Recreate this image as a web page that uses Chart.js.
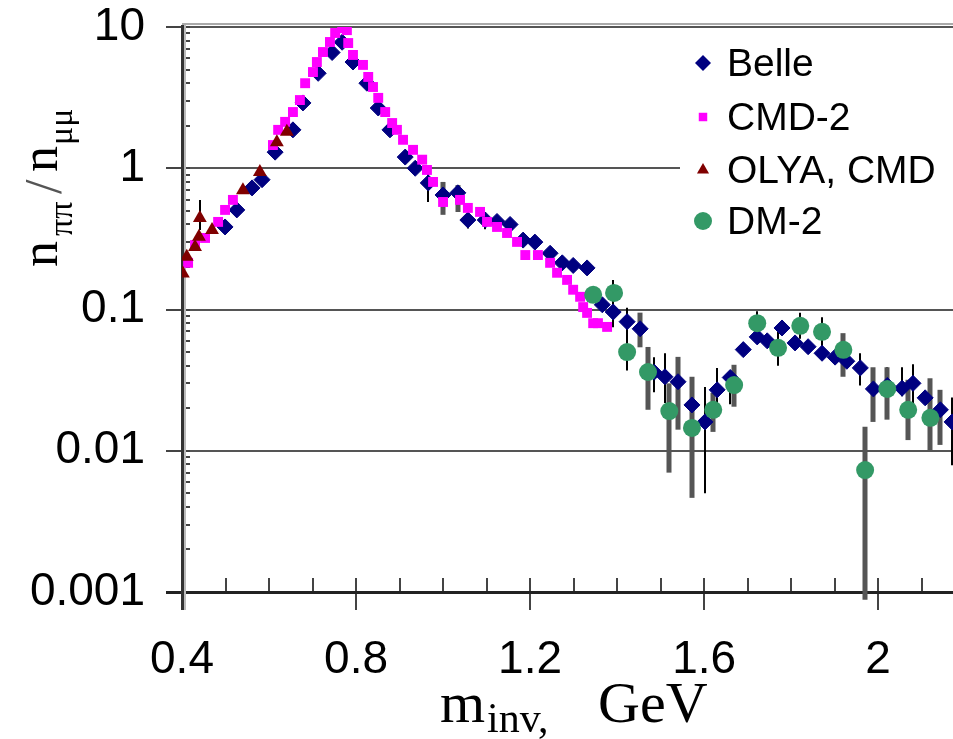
<!DOCTYPE html>
<html>
<head>
<meta charset="utf-8">
<script src="https://cdn.jsdelivr.net/npm/chart.js@4.4.1/dist/chart.umd.min.js"></script>
<style>
  html, body { margin: 0; padding: 0; background: #fff; }
</style>
</head>
<body>
<canvas id="ratioChart" width="953" height="739"></canvas>
<script>
// axis ticks
const xTicks = [0.4, 0.8, 1.2, 1.6, 2];
const yTicks = [0.001, 0.01, 0.1, 1, 10];
const yTickLabels = ['0.001', '0.01', '0.1', '1', '10'];

const seriesNames = ['Belle', 'CMD-2', 'OLYA, CMD', 'DM-2'];

// Belle
const belleMass = [0.499, 0.526, 0.561, 0.584, 0.614, 0.655, 0.678, 0.713, 0.745, 0.768,
  0.793, 0.825, 0.851, 0.878, 0.913, 0.936, 0.966, 1.000, 1.034, 1.057,
  1.097, 1.124, 1.154, 1.184, 1.211, 1.246, 1.274, 1.299, 1.331, 1.366,
  1.391, 1.423, 1.453, 1.485, 1.510, 1.540, 1.572, 1.602, 1.630, 1.660,
  1.690, 1.722, 1.745, 1.779, 1.809, 1.839, 1.871, 1.901, 1.928, 1.959,
  1.989, 2.021, 2.055, 2.080, 2.108, 2.143, 2.170];
const belleRatio = [0.384, 0.507, 0.726, 0.83, 1.30, 1.87, 2.9, 4.7, 6.6, 7.8,
  5.65, 4.0, 2.67, 1.87, 1.2, 1.0, 0.787, 0.647, 0.67, 0.43,
  0.43, 0.42, 0.40, 0.31, 0.30, 0.25, 0.214, 0.205, 0.197, 0.108,
  0.096, 0.082, 0.073, 0.036, 0.0334, 0.0308, 0.0211, 0.016, 0.027, 0.033,
  0.052, 0.064, 0.060, 0.074, 0.058, 0.0545, 0.049, 0.046, 0.043, 0.0386,
  0.0274, 0.029, 0.0277, 0.030, 0.0237, 0.0195, 0.016];
const belleErrMass = [0.966, 1.057, 1.097, 1.391, 1.423, 1.485, 1.510, 1.572, 1.602, 1.630, 1.660, 1.959, 2.021, 2.055, 2.080, 2.170];
const belleErrLo = [0.578, 0.375, 0.37, 0.075, 0.037, 0.026, 0.0218, 0.0094, 0.0050, 0.0174, 0.0213, 0.029, 0.0174, 0.0243, 0.0195, 0.0079];
const belleErrHi = [1.0, 0.50, 0.49, 0.162, 0.103, 0.046, 0.049, 0.028, 0.0283, 0.0386, 0.036, 0.049, 0.039, 0.039, 0.041, 0.0238];
const belleSysMass = [1.000, 1.034, 1.453, 1.540, 1.989, 2.143];
const belleSysLo = [0.468, 0.49, 0.054, 0.0141, 0.016, 0.011];
const belleSysHi = [0.80, 0.76, 0.095, 0.0462, 0.039, 0.027];

// CMD-2
const cmd2Mass = [0.414, 0.430, 0.453, 0.483, 0.499, 0.517, 0.609, 0.621, 0.637, 0.655,
  0.671, 0.683, 0.701, 0.710, 0.724, 0.740, 0.752, 0.768, 0.779, 0.782,
  0.793, 0.816, 0.828, 0.839, 0.851, 0.867, 0.883, 0.894, 0.908, 0.931,
  0.952, 0.963, 0.977, 1.000, 1.039, 1.057, 1.085, 1.101, 1.124, 1.147,
  1.170, 1.189, 1.218, 1.246, 1.262, 1.285, 1.299, 1.315, 1.322, 1.331,
  1.345, 1.356, 1.377];
const cmd2Ratio = [0.214, 0.286, 0.321, 0.417, 0.507, 0.597, 1.46, 1.87, 2.13, 2.50,
  3.04, 4.0, 4.8, 5.65, 6.65, 7.83, 9.07, 9.8, 9.5, 7.7,
  6.34, 5.39, 4.43, 3.76, 3.15, 2.50, 2.09, 1.87, 1.59, 1.35,
  1.15, 0.973, 0.80, 0.577, 0.597, 0.524, 0.491, 0.417, 0.384, 0.348,
  0.301, 0.243, 0.243, 0.214, 0.182, 0.162, 0.138, 0.123, 0.104, 0.0946,
  0.080, 0.080, 0.0753];

// OLYA, CMD
const olyaMass = [0.402, 0.411, 0.430, 0.439, 0.441, 0.469, 0.540, 0.579, 0.618, 0.641];
const olyaRatio = [0.18, 0.236, 0.277, 0.327, 0.445, 0.366, 0.70, 0.94, 1.53, 1.81];
const olyaErrMass = [0.441];
const olyaErrLo = [0.366];
const olyaErrHi = [0.597];

// DM-2
const dm2Mass = [1.345, 1.393, 1.423, 1.471, 1.520, 1.572, 1.621, 1.669, 1.722, 1.770,
  1.821, 1.871, 1.920, 1.970, 2.021, 2.069, 2.120];
const dm2Ratio = [0.127, 0.131, 0.050, 0.0361, 0.0191, 0.0145, 0.0195, 0.0292, 0.080, 0.0535,
  0.0766, 0.0695, 0.0518, 0.0073, 0.0274, 0.0195, 0.0171];
const dm2ErrMass = [1.722, 1.770, 1.821, 1.871];
const dm2ErrLo = [0.066, 0.040, 0.062, 0.055];
const dm2ErrHi = [0.097, 0.070, 0.095, 0.088];
const dm2SysMass = [1.471, 1.520, 1.572, 1.621, 1.669, 1.920, 1.970, 2.021, 2.069, 2.120];
const dm2SysLo = [0.0195, 0.0070, 0.00464, 0.0136, 0.0205, 0.0334, 0.00088, 0.0166, 0.0119, 0.0098];
const dm2SysHi = [0.0543, 0.030, 0.0334, 0.0257, 0.0406, 0.068, 0.0148, 0.039, 0.0318, 0.0326];

const NAVY = '#000080', MAGENTA = '#ff00ff', DARKRED = '#800000', GREEN = '#339966';
const SANS = "'Liberation Sans', Arial, sans-serif";
const SERIF = "'Liberation Serif', 'Times New Roman', serif";

const toPoints = (xs, ys) => xs.map((x, i) => ({ x, y: ys[i] }));
const thinBars = (mass, lo, hi) => ({ mass, lo, hi, color: '#000', width: 2 });
const wideBars = (mass, lo, hi) => ({ mass, lo, hi, color: '#555', width: 5 });

const datasets = [
  {
    label: seriesNames[0], data: toPoints(belleMass, belleRatio), order: 4,
    pointStyle: 'rectRot', pointRadius: 8, backgroundColor: NAVY, borderColor: NAVY, borderWidth: 1,
    bars: [wideBars(belleSysMass, belleSysLo, belleSysHi), thinBars(belleErrMass, belleErrLo, belleErrHi)]
  },
  {
    label: seriesNames[1], data: toPoints(cmd2Mass, cmd2Ratio), order: 3,
    pointStyle: 'rect', pointRadius: 7, backgroundColor: MAGENTA, borderColor: MAGENTA, borderWidth: 0
  },
  {
    label: seriesNames[2], data: toPoints(olyaMass, olyaRatio), order: 2,
    pointStyle: 'triangle', pointRadius: 8, backgroundColor: DARKRED, borderColor: DARKRED, borderWidth: 0,
    bars: [thinBars(olyaErrMass, olyaErrLo, olyaErrHi)]
  },
  {
    label: seriesNames[3], data: toPoints(dm2Mass, dm2Ratio), order: 1,
    pointStyle: 'circle', pointRadius: 9, backgroundColor: GREEN, borderColor: GREEN, borderWidth: 0,
    bars: [wideBars(dm2SysMass, dm2SysLo, dm2SysHi), thinBars(dm2ErrMass, dm2ErrLo, dm2ErrHi)]
  }
];

// axis lines, major/minor tick marks
const frame = {
  id: 'frame',
  beforeDatasetsDraw(chart) {
    const { ctx, chartArea: a, scales: { x, y } } = chart;
    ctx.save();
    // light top border
    ctx.fillStyle = '#aaa';
    ctx.fillRect(a.left, a.top - 4, a.right - a.left, 2);
    ctx.strokeStyle = '#444';
    ctx.lineWidth = 2;
    // x ticks: every 0.1 inside, labelled ones also outside
    for (let k = 4; k <= 21; k++) {
      const v = k / 10;
      const px = Math.round(x.getPixelForValue(v));
      const major = xTicks.some(t => Math.abs(t - v) < 1e-9);
      ctx.beginPath();
      ctx.moveTo(px, a.bottom + (major ? 18 : 0));
      ctx.lineTo(px, a.bottom - 14);
      ctx.stroke();
    }
    // y ticks: 1..9 per decade inside, decades also outside
    for (let d = 0; d < yTicks.length; d++) {
      for (let k = 1; k <= 9; k++) {
        const v = yTicks[d] * k;
        if (v > 10) break;
        const py = Math.round(y.getPixelForValue(v));
        ctx.beginPath();
        ctx.moveTo(a.left - (k === 1 ? 16 : 0), py);
        ctx.lineTo(a.left + 8, py);
        ctx.stroke();
      }
    }
    ctx.fillStyle = '#222';
    ctx.fillRect(a.left - 16, a.bottom - 1, a.right - a.left + 16, 3);
    ctx.fillStyle = '#bbb';
    ctx.fillRect(a.left + 1, a.top - 2, 3, a.bottom - a.top + 20);
    ctx.fillStyle = '#333';
    ctx.fillRect(a.left - 1, a.top - 2, 3, a.bottom - a.top + 20);
    ctx.restore();
  }
};

// vertical uncertainty bars
const errorBars = {
  id: 'errorBars',
  beforeDatasetsDraw(chart) {
    const { ctx, scales: { x, y } } = chart;
    ctx.save();
    chart.data.datasets.forEach(ds => {
      (ds.bars || []).forEach(b => {
        ctx.strokeStyle = b.color;
        ctx.lineWidth = b.width;
        b.mass.forEach((m, i) => {
          const px = Math.round(x.getPixelForValue(m));
          ctx.beginPath();
          ctx.moveTo(px, y.getPixelForValue(b.lo[i]));
          ctx.lineTo(px, y.getPixelForValue(b.hi[i]));
          ctx.stroke();
        });
      });
    });
    ctx.restore();
  }
};

// legend box in the upper right corner
const cornerLegend = {
  id: 'cornerLegend',
  afterDatasetsDraw(chart) {
    const { ctx, chartArea: a } = chart;
    const left = 680, top = 33;
    ctx.save();
    ctx.fillStyle = '#fff';
    ctx.fillRect(left, top, a.right - left, 215);
    const rows = [63, 117, 170, 221];
    const marks = [
      { pointStyle: 'rectRot', radius: 8, color: NAVY },
      { pointStyle: 'rect', radius: 6, color: MAGENTA },
      { pointStyle: 'triangle', radius: 7, color: DARKRED },
      { pointStyle: 'circle', radius: 9, color: GREEN }
    ];
    ctx.font = '39px ' + SANS;
    ctx.textBaseline = 'middle';
    marks.forEach((m, i) => {
      ctx.fillStyle = m.color;
      ctx.strokeStyle = m.color;
      Chart.helpers.drawPoint(ctx, { pointStyle: m.pointStyle, radius: m.radius, rotation: 0, borderWidth: 0 }, 703, rows[i]);
      ctx.fillStyle = '#000';
      ctx.fillText(seriesNames[i], 727, rows[i] + 2);
    });
    ctx.restore();
  }
};

// axis titles with subscripts
const axisTitles = {
  id: 'axisTitles',
  afterDraw(chart) {
    const { ctx } = chart;
    ctx.save();
    ctx.fillStyle = '#000';
    ctx.textBaseline = 'alphabetic';
    // y title, rotated
    ctx.translate(57, 267);
    ctx.rotate(-Math.PI / 2);
    ctx.font = '52px ' + SERIF;
    ctx.fillText('n', 0, 0);
    ctx.font = '34px ' + SERIF;
    ctx.fillText('\u03c0\u03c0', 31, 15);
    ctx.fillStyle = '#555';
    ctx.font = '52px ' + SERIF;
    ctx.fillText('/', 73, 4);
    ctx.fillStyle = '#000';
    ctx.fillText('n', 95, 0);
    ctx.font = '34px ' + SERIF;
    ctx.fillText('\u03bc\u03bc', 122, 15);
    ctx.setTransform(1, 0, 0, 1, 0, 0);
    // x title
    ctx.font = '58px ' + SERIF;
    ctx.fillText('m', 440, 722);
    ctx.font = '42px ' + SERIF;
    ctx.fillText('inv,', 487, 732);
    ctx.font = '58px ' + SERIF;
    ctx.fillText('GeV', 598, 722);
    ctx.restore();
  }
};

const tickFont = { family: SANS, size: 46, lineHeight: 1 };

new Chart(document.getElementById('ratioChart'), {
  type: 'scatter',
  data: { datasets },
  options: {
    responsive: false,
    animation: false,
    layout: { autoPadding: false, padding: { top: 27, right: 0, left: 0, bottom: 0 } },
    plugins: { legend: { display: false }, tooltip: { enabled: false } },
    scales: {
      x: {
        type: 'linear', min: 0.4, max: 2.172,
        afterBuildTicks: s => { s.ticks = xTicks.map(v => ({ value: v })); },
        afterFit: s => { s.height = 147; },
        border: { display: false },
        grid: { drawOnChartArea: false, drawTicks: true, tickLength: 45, tickColor: 'rgba(0,0,0,0)' },
        ticks: { color: '#000', font: tickFont, padding: 0, maxRotation: 0, autoSkip: false,
          callback: v => String(v) }
      },
      y: {
        type: 'logarithmic', min: 0.001, max: 10,
        afterBuildTicks: s => { s.ticks = yTicks.map(v => ({ value: v })); },
        afterFit: s => { s.width = 182; },
        border: { display: false },
        grid: { color: '#555', lineWidth: 2, drawTicks: true, tickLength: 37, tickColor: 'rgba(0,0,0,0)' },
        ticks: { color: '#000', font: tickFont, padding: 0, autoSkip: false,
          callback: v => yTickLabels[yTicks.indexOf(v)] }
      }
    }
  },
  plugins: [frame, errorBars, cornerLegend, axisTitles]
});
</script>
</body>
</html>
